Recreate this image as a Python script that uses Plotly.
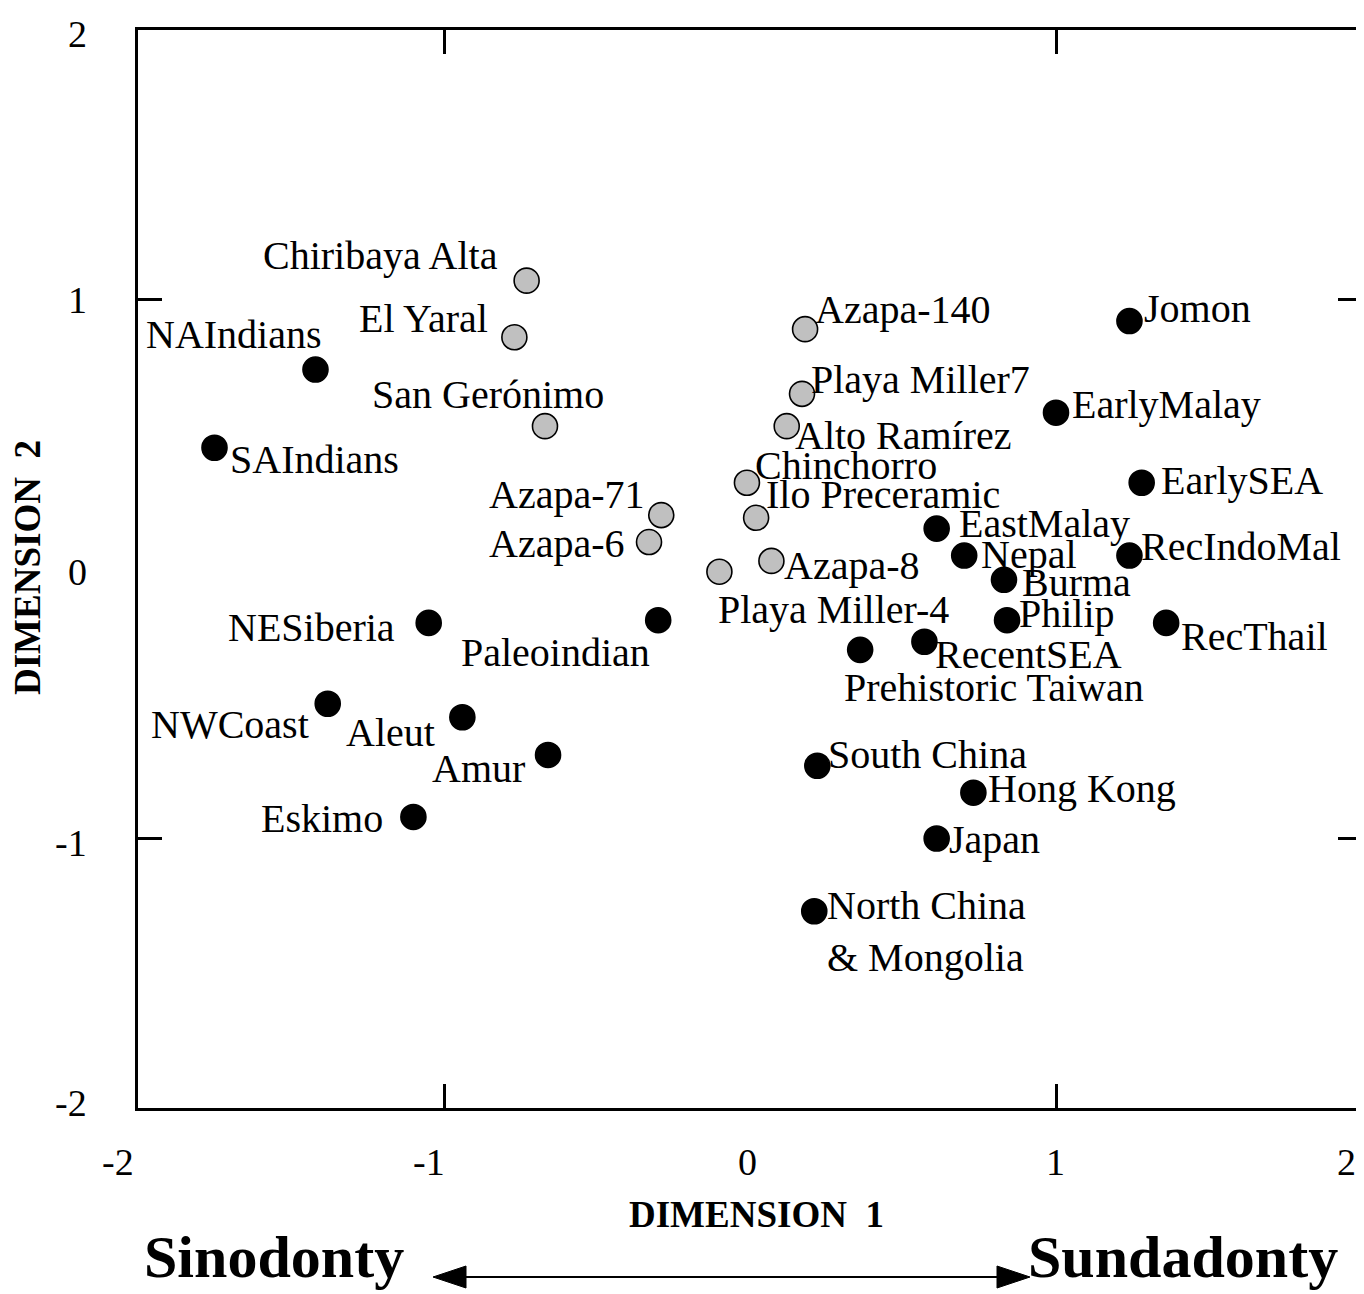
import plotly.graph_objects as go

# ---------------- data ----------------
gray_names = ["Chiribaya Alta", "El Yaral", "San Gerónimo", "Azapa-71", "Azapa-6",
              "Azapa-140", "Playa Miller7", "Alto Ramírez", "Chinchorro",
              "Ilo Preceramic", "Azapa-8", "Playa Miller-4"]
gray_x = [-0.73, -0.77, -0.67, -0.29, -0.33, 0.18, 0.17, 0.12, -0.01, 0.02, 0.07, -0.10]
gray_y = [1.07, 0.86, 0.53, 0.20, 0.10, 0.89, 0.65, 0.53, 0.32, 0.19, 0.03, -0.01]

black_names = ["NAIndians", "SAIndians", "NESiberia", "Paleoindian", "NWCoast", "Aleut",
               "Amur", "Eskimo", "Jomon", "EarlyMalay", "EarlySEA", "EastMalay", "Nepal",
               "RecIndoMal", "Burma", "Philip", "RecThail", "RecentSEA",
               "Prehistoric Taiwan", "South China", "Hong Kong", "Japan",
               "North China<br>& Mongolia"]
black_x = [-1.42, -1.75, -1.05, -0.30, -1.38, -0.94, -0.66, -1.10, 1.24, 1.00, 1.28, 0.61,
           0.70, 1.24, 0.83, 0.84, 1.36, 0.57, 0.36, 0.22, 0.73, 0.61, 0.21]
black_y = [0.74, 0.45, -0.20, -0.19, -0.50, -0.55, -0.69, -0.92, 0.92, 0.58, 0.32, 0.15,
           0.05, 0.05, -0.04, -0.19, -0.20, -0.27, -0.30, -0.73, -0.83, -1.00, -1.27]

tick_vals = [-2, -1, 0, 1, 2]
tick_text = ["-2", "-1", "0", "1", "2"]
mark_vals = [-1, 1]

# ---------------- placement (pixels) ----------------
xtick_shift = [-20, -15, -3, -1, -16]     # horizontal nudge of x tick labels
ytick_shift = [-5, 4, 3, 0, 4]            # downward nudge of y tick labels
label_pos = {   # anchor, dx, dy (down positive)
    "Chiribaya Alta": ("right", -27, -25),
    "El Yaral": ("right", -24, -19),
    "San Gerónimo": ("center", -57, -32),
    "Azapa-71": ("right", -15, -21),
    "Azapa-6": ("right", -23, 1),
    "Azapa-140": ("left", 8, -20),
    "Playa Miller7": ("left", 7, -14),
    "Alto Ramírez": ("left", 6, 9),
    "Chinchorro": ("left", 6, -17),
    "Ilo Preceramic": ("left", 8, -23),
    "Azapa-8": ("left", 11, 5),
    "Playa Miller-4": ("left", -3, 38),
    "NAIndians": ("center", -81, -35),
    "SAIndians": ("left", 13, 12),
    "NESiberia": ("right", -32, 5),
    "Paleoindian": ("right", -6, 32),
    "NWCoast": ("right", -17, 21),
    "Aleut": ("right", -25, 15),
    "Amur": ("right", -21, 14),
    "Eskimo": ("right", -28, 2),
    "Jomon": ("left", 13, -13),
    "EarlyMalay": ("left", 14, -8),
    "EarlySEA": ("left", 17, -2),
    "EastMalay": ("left", 20, -5),
    "Nepal": ("left", 15, -1),
    "RecIndoMal": ("left", 10, -9),
    "Burma": ("left", 16, 3),
    "Philip": ("left", 10, -7),
    "RecThail": ("left", 13, 14),
    "RecentSEA": ("left", 9, 13),
    "Prehistoric Taiwan": ("left", -18, 38),
    "South China": ("left", 9, -11),
    "Hong Kong": ("left", 13, -4),
    "Japan": ("left", 10, 1),
    "North China<br>& Mongolia": ("left", 11, 20),
}

FONT = "Liberation Serif, Times New Roman, Times, serif"
LSIZE = 40
PAGE_OFF = 8                      # default body margin of the html page
W, H = 1364 - PAGE_OFF, 1294 - PAGE_OFF
ML, MR, MT = 138 - PAGE_OFF, 2, 30 - PAGE_OFF
PH = 1078
MB = H - MT - PH
PW = W - ML - MR
X0, Y1 = ML + PAGE_OFF, MT + PAGE_OFF + PH   # screen pixel of plot left / bottom


def px(xp):
    return (xp - X0) / PW


def py(yp):
    return (Y1 - yp) / PH


fig = go.Figure()
fig.add_trace(go.Scatter(
    x=gray_x, y=gray_y, mode="markers", showlegend=False, hoverinfo="skip",
    marker=dict(size=25, color="#c0c0c0", line=dict(color="black", width=1.6))))
fig.add_trace(go.Scatter(
    x=black_x, y=black_y, mode="markers", showlegend=False, hoverinfo="skip",
    marker=dict(size=25, color="black", line=dict(color="black", width=1.6))))

annotations = []
for names, xs, ys in ((gray_names, gray_x, gray_y), (black_names, black_x, black_y)):
    for n, x, y in zip(names, xs, ys):
        anc, dx, dy = label_pos[n]
        annotations.append(dict(
            x=x, y=y, xref="x", yref="y", text=n, showarrow=False,
            xanchor=anc, yanchor="middle", xshift=dx, yshift=-dy, align="left",
            font=dict(family=FONT, size=LSIZE, color="black")))

# tick labels
tick_font = dict(family=FONT, size=38, color="black")
for v, t, s in zip(tick_vals, tick_text, xtick_shift):
    annotations.append(dict(x=v, y=py(1162), xref="x", yref="paper", text=t,
                            showarrow=False, xanchor="center", yanchor="middle",
                            xshift=s, font=tick_font))
for v, t, s in zip(tick_vals, tick_text, ytick_shift):
    annotations.append(dict(x=px(89), y=v, xref="paper", yref="y", text=t,
                            showarrow=False, xanchor="right", yanchor="middle",
                            yshift=-s, font=tick_font))

annotations += [
    dict(x=px(756), y=py(1214), xref="paper", yref="paper", text="<b>DIMENSION  1</b>",
         showarrow=False, xanchor="center", yanchor="middle",
         font=dict(family=FONT, size=37, color="black")),
    dict(x=px(27), y=py(568), xref="paper", yref="paper", text="<b>DIMENSION  2</b>",
         showarrow=False, xanchor="center", yanchor="middle", textangle=-90,
         font=dict(family=FONT, size=37, color="black")),
    dict(x=px(142), y=py(1257), xref="paper", yref="paper", text="<b>Sinodonty</b>",
         showarrow=False, xanchor="left", yanchor="middle",
         font=dict(family=FONT, size=60, color="black")),
    dict(x=px(1340), y=py(1257), xref="paper", yref="paper", text="<b>Sundadonty</b>",
         showarrow=False, xanchor="right", yanchor="middle",
         font=dict(family=FONT, size=60, color="black")),
]

ay = 1277
shapes = [
    dict(type="line", xref="paper", yref="paper", x0=px(455), x1=px(1008),
         y0=py(ay), y1=py(ay), line=dict(color="black", width=2)),
    dict(type="path", xref="paper", yref="paper",
         path=f"M{px(433)},{py(ay)} L{px(466)},{py(ay - 11)} L{px(466)},{py(ay + 11)} Z",
         fillcolor="black", line=dict(color="black", width=1)),
    dict(type="path", xref="paper", yref="paper",
         path=f"M{px(1030)},{py(ay)} L{px(997)},{py(ay - 11)} L{px(997)},{py(ay + 11)} Z",
         fillcolor="black", line=dict(color="black", width=1)),
]

axis_marks = dict(range=[-2, 2], tickmode="array", tickvals=mark_vals, ticks="inside",
                  ticklen=24, tickwidth=2.5, tickcolor="black", showticklabels=False,
                  showline=True, linecolor="black", linewidth=3, mirror="ticks",
                  showgrid=False, zeroline=False)

fig.update_layout(
    width=W, height=H, margin=dict(l=ML, r=MR, t=MT, b=MB, autoexpand=False),
    paper_bgcolor="white", plot_bgcolor="white",
    xaxis=dict(**axis_marks),
    yaxis=dict(**axis_marks),
    annotations=annotations, shapes=shapes,
)

fig.write_html("out.html")
